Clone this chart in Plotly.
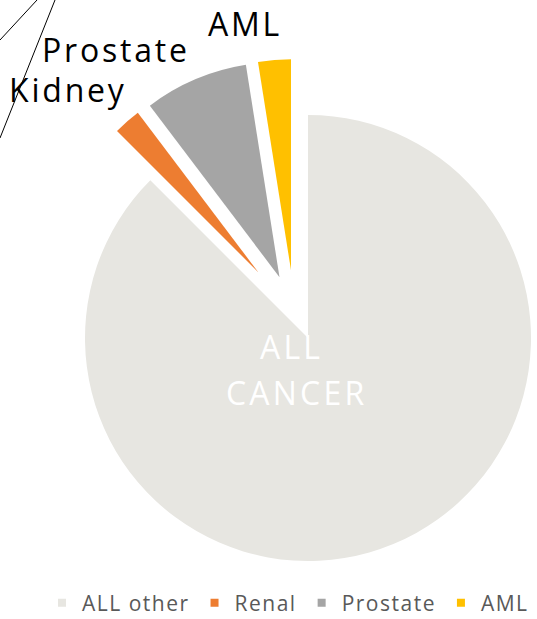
import plotly.graph_objects as go

W, H = 537, 619

# ---- data ----
labels = ["ALL other", "Renal", "Prostate", "AML"]
values = [87.5, 2.2, 7.8, 2.5]
colors = ["#E7E6E1", "#ED7D31", "#A5A5A5", "#FFC000"]
callout_labels = ["AML", "Prostate", "Kidney"]
center_label = ["ALL", "CANCER"]

# ---- layout geometry (pixels): centre x, centre y, radius of each exploded slice ----
geometry = {
    "ALL other": (308, 338, 223),
    "Renal": (258.4, 272.4, 200),
    "Prostate": (279.5, 277.2, 215),
    "AML": (291, 270.3, 211),
}
callout_pos = [(245, 24), (116, 49), (68, 89)]
center_pos = [(291, 346), (296, 392)]

FONT = "Open Sans"
TXT = "#595959"


def spaced(t, px):
    return f'<span style="letter-spacing:{px}px">{t}</span>'


def dom(cx, cy, r):
    return dict(x=[(cx - r) / W, (cx + r) / W],
                y=[1 - (cy + r) / H, 1 - (cy - r) / H])


fig = go.Figure()

for lab in labels:
    cx, cy, r = geometry[lab]
    cols = [c if l == lab else "rgba(0,0,0,0)" for l, c in zip(labels, colors)]
    fig.add_trace(go.Pie(
        labels=labels, values=values, sort=False, direction="clockwise",
        rotation=0, marker=dict(colors=cols, line=dict(width=0)),
        textinfo="none", hoverinfo="skip", showlegend=False,
        domain=dom(cx, cy, r),
    ))

# legend entries
for lab, c in zip(labels, colors):
    fig.add_trace(go.Scatter(
        x=[None], y=[None], mode="markers", name=spaced(lab, 1.5),
        marker=dict(symbol="square", size=8, color=c),
    ))

annotations = []
for t, (px, py) in zip(callout_labels, callout_pos):
    annotations.append(dict(
        text=spaced(t, 2.8), x=px / W, y=1 - py / H, xref="paper", yref="paper",
        xanchor="center", yanchor="middle", showarrow=False,
        font=dict(family=FONT, size=32, color="#000000"),
    ))
for t, (px, py) in zip(center_label, center_pos):
    annotations.append(dict(
        text=spaced(t, 3.2), x=px / W, y=1 - py / H, xref="paper", yref="paper",
        xanchor="center", yanchor="middle", showarrow=False,
        font=dict(family=FONT, size=32, color="#FFFFFF"),
    ))

shapes = [
    dict(type="line", xref="paper", yref="paper", x0=0, y0=1 - 40 / H, x1=37 / W, y1=1,
         line=dict(color="#000000", width=1)),
    dict(type="line", xref="paper", yref="paper", x0=0, y0=1 - 138 / H, x1=55 / W, y1=1,
         line=dict(color="#000000", width=1)),
]

fig.update_layout(
    width=W, height=H,
    margin=dict(l=0, r=0, t=0, b=0, pad=0, autoexpand=False),
    paper_bgcolor="#FFFFFF", plot_bgcolor="rgba(0,0,0,0)",
    xaxis=dict(visible=False), yaxis=dict(visible=False),
    showlegend=True,
    legend=dict(orientation="h", x=42 / W, xanchor="left", y=1 - 603 / H, yanchor="middle",
                font=dict(family=FONT, size=21, color=TXT), bgcolor="rgba(0,0,0,0)",
                itemclick=False),
    annotations=annotations, shapes=shapes,
    font=dict(family=FONT),
)

fig.write_html("out.html")
